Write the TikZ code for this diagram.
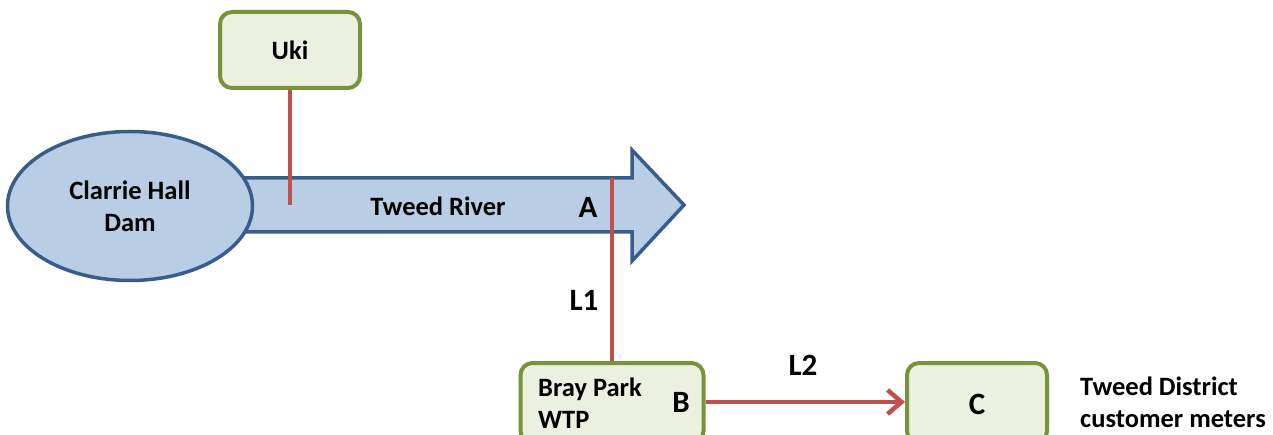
\documentclass[tikz,border=0pt]{standalone}
\usepackage{fontspec}
\setmainfont{Carlito}
\usetikzlibrary{arrows.meta,shapes.geometric}
\definecolor{boxline}{HTML}{77933C}
\definecolor{boxfill}{HTML}{EBF1DE}
\definecolor{waterline}{HTML}{385D8A}
\definecolor{waterfill}{HTML}{B9CDE5}
\definecolor{link}{HTML}{C0504D}
\tikzset{
  txt/.style={font=\bfseries\fontsize{26.5}{32}\selectfont, inner sep=0pt},
  big/.style={font=\bfseries\fontsize{31}{34}\selectfont, inner sep=0pt},
  site/.style={draw=boxline, fill=boxfill, line width=4pt, rounded corners=12pt,
    minimum width=140pt, minimum height=76pt, inner sep=0pt, txt},
  water/.style={draw=waterline, fill=waterfill, line width=3.5pt, line join=miter},
  link/.style={draw=link, line width=4.5pt}
}
\begin{document}
\begin{tikzpicture}[x=1pt,y=-1pt]
\useasboundingbox (0,0) rectangle (1273,435);
\clip (0,0) rectangle (1273,435);

% river arrow
\draw[water] (240,178) -- (632,178) -- (632,150) -- (684,205) -- (632,261)
  -- (632,232) -- (240,232) -- cycle;

% dam
\node[water, ellipse, minimum width=245pt, minimum height=149pt, inner sep=0pt,
  txt, align=center] (dam) at (130,206) {Clarrie Hall\\Dam};

% sites
\node[site] (uki) at (290,50) {Uki};
\node[site, minimum width=183pt, minimum height=80pt] (bray) at (612,403) {};
\node[site, minimum height=80pt] (cust) at (977,403) {};

% texts
\node[txt] at (438,206) {Tweed River};
\node[big] at (588,207) {A};
\node[txt, anchor=west, align=left] at (538,403) {Bray Park\\WTP};
\node[big] (b) at (681,402) {B};
\node[big] at (977,404) {C};
\node[big] at (584,300) {L1};
\node[big] at (803,365) {L2};
\node[txt, anchor=west, align=left] at (1080,402) {Tweed District\\customer meters};

% abstraction points on the river
\coordinate (ukiPt) at (290,205);
\coordinate (aPt) at (612,178);

% links
\draw[link] (uki.south) -- (ukiPt);
\draw[link] (aPt) -- (aPt |- bray.north);
\draw[link, -{Straight Barb[length=14pt,width=24pt,line width=4.5pt]}] (bray.east |- b) -- (cust.west |- b);
\end{tikzpicture}
\end{document}
